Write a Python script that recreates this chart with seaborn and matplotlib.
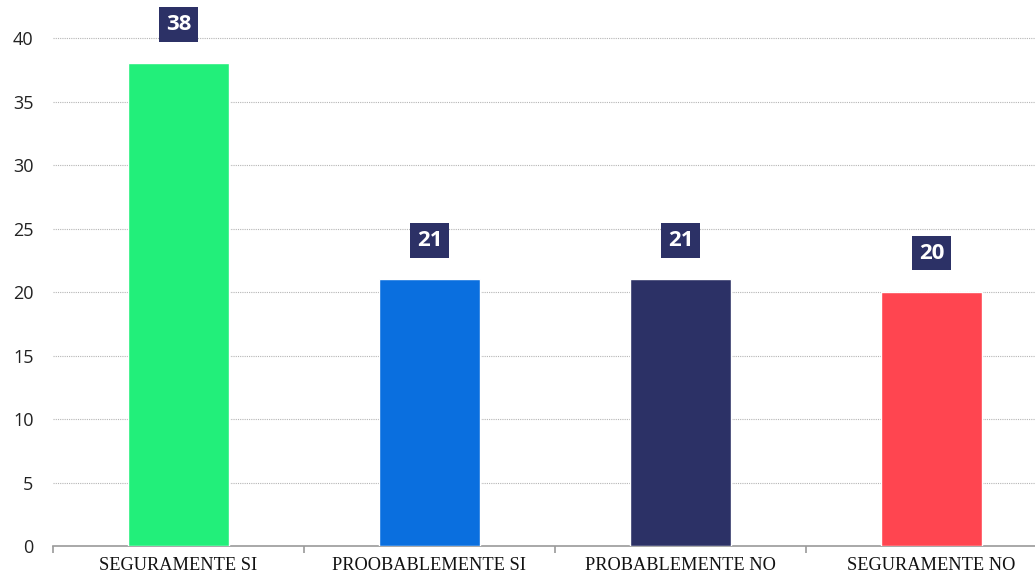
import matplotlib
matplotlib.use("Agg")
import matplotlib.pyplot as plt
import pandas as pd
import seaborn as sns

categories = ["SEGURAMENTE SI", "PROOBABLEMENTE SI", "PROBABLEMENTE NO", "SEGURAMENTE NO"]
values = [38, 21, 21, 20]
colors = ["#22EF7A", "#0A6FDF", "#2C3166", "#FF4550"]
y_ticks = [0, 5, 10, 15, 20, 25, 30, 35, 40]

df = pd.DataFrame({"answer": categories, "count": values})

sns.set_style("white")
plt.rcParams["font.family"] = ["Open Sans", "DejaVu Sans"]

fig = plt.figure(figsize=(10.35, 5.76), dpi=100)
ax = fig.add_axes([0.0512, 0.052, 0.970, 0.948])

sns.barplot(data=df, x="answer", y="count", hue="answer", palette=colors,
            legend=False, width=0.4, saturation=1, ax=ax, zorder=3)

ax.set_ylim(0, 43)
ax.set_xlim(-0.5, 3.5)
ax.set_yticks(y_ticks)
ax.set_xlabel("")
ax.set_ylabel("")

# dotted horizontal grid
ax.grid(axis="y", color="#b5b5b5", linestyle=(0, (1, 1)), linewidth=0.8, zorder=0)
ax.grid(axis="x", visible=False)

for side in ["top", "right", "left"]:
    ax.spines[side].set_visible(False)
ax.spines["bottom"].set_color("#9a9a9a")
ax.spines["bottom"].set_linewidth(1.2)

ax.tick_params(axis="y", length=0, labelsize=13, labelcolor="#222222", pad=14)
ax.set_xticks([0, 1, 2, 3])
ax.set_xticklabels(categories, fontfamily="Liberation Serif", fontsize=13.2, color="#111111")
ax.tick_params(axis="x", length=0, pad=8)

# category boundary ticks
ax.set_xticks([-0.5, 0.5, 1.5, 2.5, 3.5], minor=True)
ax.tick_params(axis="x", which="minor", bottom=True, length=5, color="#9a9a9a", width=1.2)

for i, v in enumerate(values):
    ax.annotate(str(v), xy=(i, v), xytext=(0, 28), textcoords="offset points",
                ha="center", va="center", fontsize=16, fontweight="bold",
                color="white", zorder=5,
                bbox=dict(boxstyle="square,pad=0.3", fc="#2C3166", ec="none"))

fig.savefig("out.png", dpi=100)
